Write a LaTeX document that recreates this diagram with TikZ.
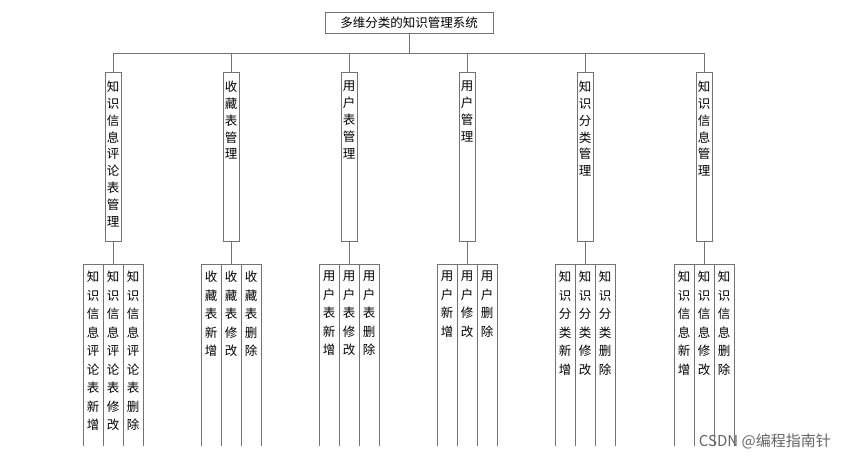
\documentclass[tikz,border=0pt]{standalone}
\usepackage{fontspec}
\setmainfont{Noto Sans CJK SC}
\begin{document}
\begin{tikzpicture}[x=1pt,y=-1pt,
  ln/.style={draw=black!55,line width=0.8pt},
  vt/.style={font=\fontsize{12.5}{18.5}\selectfont,align=center,inner sep=0pt,anchor=north},
  vt2/.style={font=\fontsize{12.5}{16.8}\selectfont,align=center,inner sep=0pt,anchor=north},
]
\useasboundingbox[fill=white] (0,0) rectangle (845,463);
\node[ln,draw,minimum width=168,minimum height=21,inner sep=0pt,font=\fontsize{12.5}{15}\selectfont] (root) at (409,22.5) {多维分类的知识管理系统};
\coordinate (bar) at (409,53);
\draw[ln] (root.south) -- (bar);
\draw[ln] (113,53) -- (704,53);
\foreach \i/\cx/\t/\a/\b/\c in {
 1/113/知\\识\\信\\息\\评\\论\\表\\管\\理/知\\识\\信\\息\\评\\论\\表\\新\\增/知\\识\\信\\息\\评\\论\\表\\修\\改/知\\识\\信\\息\\评\\论\\表\\删\\除,
 2/231/收\\藏\\表\\管\\理/收\\藏\\表\\新\\增/收\\藏\\表\\修\\改/收\\藏\\表\\删\\除,
 3/349/用\\户\\表\\管\\理/用\\户\\表\\新\\增/用\\户\\表\\修\\改/用\\户\\表\\删\\除,
 4/467/用\\户\\管\\理/用\\户\\新\\增/用\\户\\修\\改/用\\户\\删\\除,
 5/585/知\\识\\分\\类\\管\\理/知\\识\\分\\类\\新\\增/知\\识\\分\\类\\修\\改/知\\识\\分\\类\\删\\除,
 6/704/知\\识\\信\\息\\管\\理/知\\识\\信\\息\\新\\增/知\\识\\信\\息\\修\\改/知\\识\\信\\息\\删\\除}{
  \coordinate (top\i) at (\cx,53);
  \node[ln,draw,minimum width=16,minimum height=169,inner sep=0pt,anchor=north] (m\i) at (\cx,72) {};
  \node[vt2] (mt\i) at (\cx,81) {\t};
  \draw[ln] (top\i) -- (m\i.north);
  \coordinate (g\i) at (\cx,264);
  \draw[ln] (m\i.south) -- (g\i);
  \draw[ln] (\cx-30,446) -- (\cx-30,264) -- (\cx+30,264) -- (\cx+30,446);
  \draw[ln] (\cx-10,264) -- (\cx-10,446);
  \draw[ln] (\cx+10,264) -- (\cx+10,446);
  \node[vt] (a\i) at (\cx-20,271) {\a};
  \node[vt] (b\i) at (\cx,271) {\b};
  \node[vt] (c\i) at (\cx+20,271) {\c};
}
\node[font=\fontsize{15}{17}\selectfont,text=black!60,anchor=east,inner sep=0pt] (wm) at (831,441) {CSDN @编程指南针};
\end{tikzpicture}
\end{document}
